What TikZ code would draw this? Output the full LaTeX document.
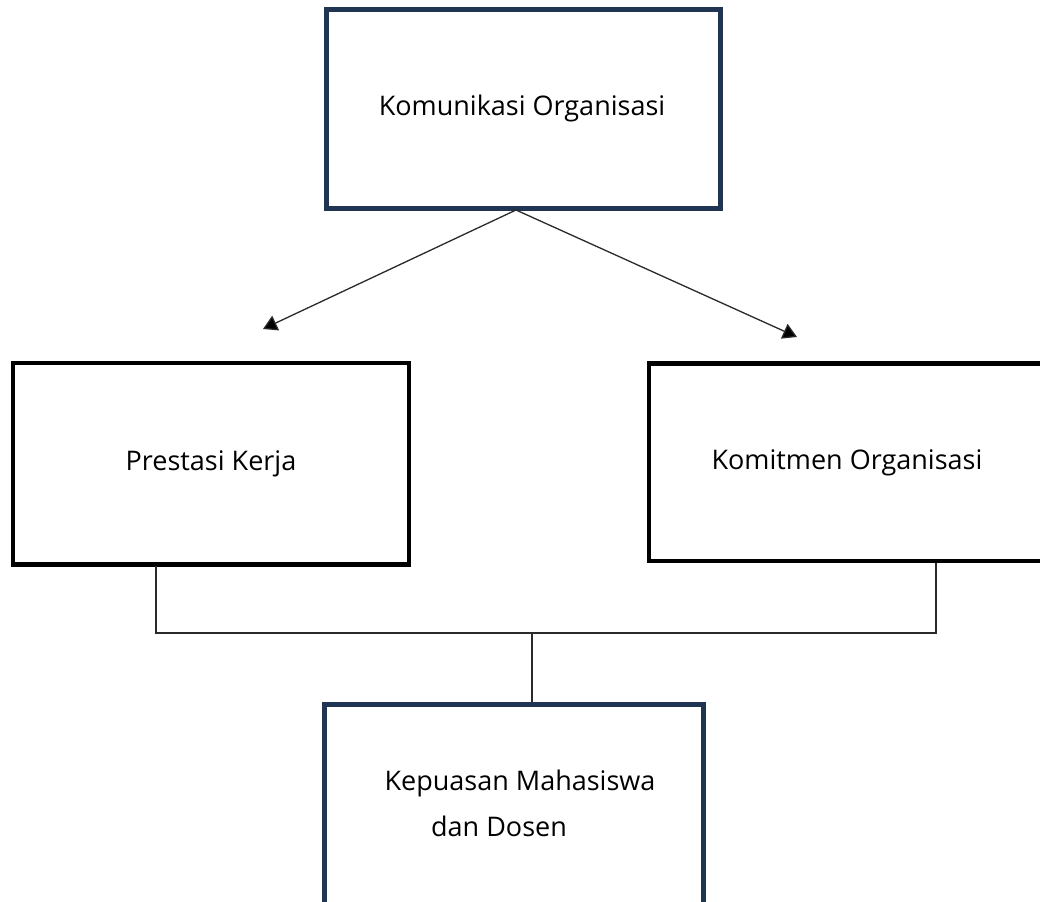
\documentclass[tikz,border=0pt]{standalone}
\usepackage{fontspec}
\setmainfont{Open Sans}
\usetikzlibrary{arrows.meta}
\definecolor{navy}{HTML}{1F3552}
\definecolor{linegray}{HTML}{2A2A2A}
\begin{document}
\begin{tikzpicture}[x=1pt,y=-1pt,
  navybox/.style={draw=navy,line width=5pt},
  blackbox/.style={draw=black,line width=4.5pt},
  lbl/.style={font=\fontsize{27}{32}\selectfont,inner sep=0pt,anchor=center},
  conn/.style={draw=linegray,line width=1.3pt},
  arr/.style={conn,-{Triangle[length=14pt,width=16pt,fill=black]}}]
\useasboundingbox (0,0) rectangle (1040,901);
\fill[white] (0,0) rectangle (1040,901);
% boxes
\draw[navybox] (326.5,9.5) rectangle (720,209);
\draw[blackbox] (13,363) rectangle (409,564.5);
\draw[blackbox] (649,363.5) rectangle (1050,561);
\draw[navybox] (324.5,704.5) rectangle (703,915);
% named anchor coordinates
\coordinate (topbot) at (516,210);
\coordinate (la) at (263,329);
\coordinate (ra) at (797,337);
\coordinate (lb) at (156,566);
\coordinate (rb) at (936,563);
\coordinate (lj) at (156,633);
\coordinate (rj) at (936,633);
\coordinate (mj) at (532,633);
\coordinate (bt) at (532,702);
% texts
\node[lbl] (t1) at (522,108) {Komunikasi Organisasi};
\node[lbl] (t2) at (211,464) {Prestasi Kerja};
\node[lbl] (t3) at (847,463) {Komitmen Organisasi};
\node[lbl] (t4) at (520,783) {Kepuasan Mahasiswa};
\node[lbl] (t5) at (499,826) {dan Dosen};
% connectors
\draw[arr] (topbot) -- (la);
\draw[arr] (topbot) -- (ra);
\draw[conn] (lb) -- (lj) -- (rj) -- (rb);
\draw[conn] (mj) -- (bt);
\end{tikzpicture}
\end{document}
